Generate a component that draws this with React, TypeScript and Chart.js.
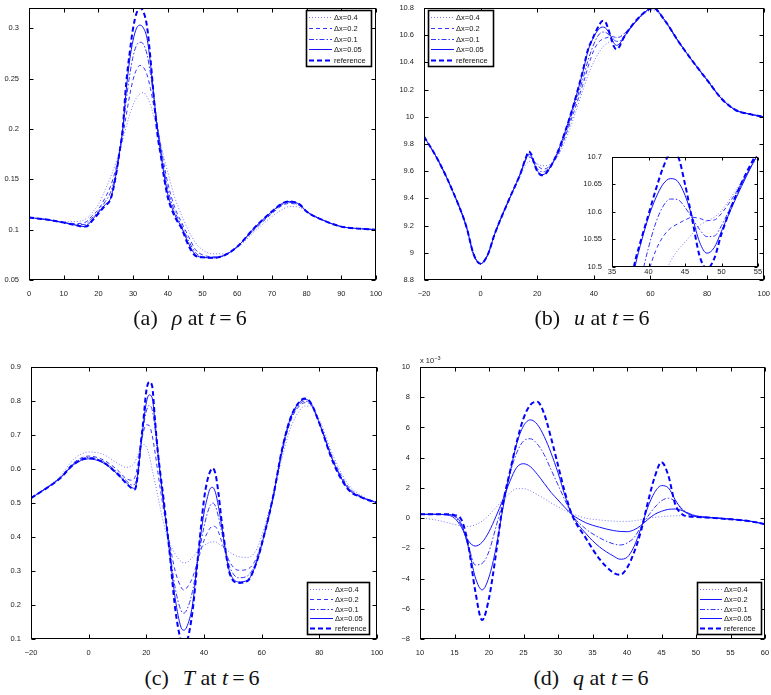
import React, { useEffect, useRef } from "react";
import { Chart, registerables } from "chart.js";
Chart.register(...registerables);

const FONT = "'Liberation Sans', Arial, Helvetica, sans-serif";
const SERIF = "'Liberation Serif', 'DejaVu Serif', serif";

const LABELS = ["Δx=0.4", "Δx=0.2", "Δx=0.1", "Δx=0.05", "reference"];

// ---------- (a) rho at t=6 ----------
const rhoX = [0, 5, 10, 14, 16, 17, 18, 20, 22, 23.5, 25, 26, 27, 28, 29, 30, 31, 32, 33, 34, 35, 36, 37, 38, 39, 40, 42, 44, 46, 48, 50, 53, 56, 60, 65, 70, 73, 75, 78, 80, 85, 90, 95, 100];
const rhoDx04 = [.112, .110, .108, .108, .110, .112, .116, .125, .140, .152, .166, .177, .189, .202, .214, .224, .231, .235, .236, .232, .224, .212, .199, .185, .170, .157, .132, .114, .099, .087, .080, .076, .076, .082, .098, .113, .120, .123, .122, .117, .109, .103, .101, .100];
const rhoDx02 = [.112, .110, .107, .106, .107, .109, .113, .120, .132, .143, .160, .175, .193, .213, .233, .249, .259, .263, .261, .254, .240, .222, .202, .182, .163, .146, .122, .107, .093, .080, .075, .073, .074, .083, .100, .116, .124, .126, .124, .118, .109, .103, .101, .100];
const rhoDx01 = [.112, .110, .107, .105, .105, .107, .111, .118, .128, .137, .155, .175, .198, .228, .253, .272, .283, .286, .284, .274, .255, .230, .204, .180, .158, .140, .118, .104, .089, .077, .073, .072, .074, .083, .101, .117, .125, .127, .124, .118, .109, .103, .101, .100];
const rhoDx005 = [.112, .110, .107, .104, .103, .105, .109, .117, .125, .131, .153, .175, .200, .238, .268, .288, .300, .303, .300, .290, .265, .232, .200, .175, .153, .135, .115, .102, .086, .075, .0725, .072, .074, .083, .102, .118, .126, .128, .125, .118, .109, .103, .101, .100];
const rhoRef = [.112, .110, .107, .104, .103, .104, .108, .116, .124, .130, .153, .175, .200, .245, .275, .300, .315, .320, .316, .302, .270, .230, .195, .173, .150, .132, .113, .101, .084, .074, .0725, .072, .074, .083, .102, .118, .126, .128, .125, .118, .109, .103, .101, .100];

// ---------- (b) u at t=6 ----------
const uX = [-20, -15, -10, -5, -2.5, 0, 2.5, 5, 10, 14, 16, 17, 18, 19, 20, 21, 22, 24, 27, 30, 33, 36, 38, 39, 40, 41, 42, 43, 44, 45, 46, 47, 48, 49, 50, 52, 55, 58, 61, 65, 70, 75, 80, 85, 90, 95, 100];
const uDx04 = [9.855, 9.68, 9.46, 9.19, 8.99, 8.92, 8.985, 9.14, 9.39, 9.56, 9.65, 9.67, 9.675, 9.665, 9.655, 9.645, 9.64, 9.645, 9.70, 9.83, 10.00, 10.19, 10.31, 10.36, 10.405, 10.445, 10.48, 10.51, 10.53, 10.545, 10.56, 10.575, 10.583, 10.59, 10.602, 10.64, 10.70, 10.76, 10.785, 10.70, 10.545, 10.41, 10.28, 10.145, 10.055, 10.02, 10.00];
const uDx02 = [9.855, 9.68, 9.46, 9.19, 8.99, 8.92, 8.985, 9.14, 9.39, 9.58, 9.685, 9.705, 9.695, 9.67, 9.645, 9.625, 9.615, 9.63, 9.71, 9.86, 10.04, 10.23, 10.37, 10.435, 10.49, 10.53, 10.555, 10.57, 10.578, 10.585, 10.59, 10.588, 10.584, 10.585, 10.597, 10.635, 10.705, 10.77, 10.795, 10.71, 10.55, 10.405, 10.27, 10.135, 10.05, 10.02, 10.00];
const uDx01 = [9.855, 9.68, 9.46, 9.19, 8.99, 8.92, 8.985, 9.14, 9.39, 9.58, 9.69, 9.715, 9.70, 9.66, 9.62, 9.60, 9.595, 9.62, 9.72, 9.88, 10.07, 10.27, 10.42, 10.48, 10.535, 10.58, 10.61, 10.623, 10.622, 10.608, 10.588, 10.568, 10.555, 10.556, 10.575, 10.63, 10.705, 10.77, 10.80, 10.71, 10.55, 10.405, 10.27, 10.135, 10.05, 10.02, 10.00];
const uDx005 = [9.855, 9.68, 9.46, 9.19, 8.99, 8.92, 8.985, 9.14, 9.39, 9.58, 9.695, 9.725, 9.71, 9.655, 9.605, 9.58, 9.575, 9.61, 9.73, 9.90, 10.10, 10.32, 10.49, 10.545, 10.59, 10.625, 10.65, 10.66, 10.655, 10.63, 10.59, 10.545, 10.525, 10.535, 10.565, 10.625, 10.705, 10.77, 10.80, 10.71, 10.55, 10.405, 10.27, 10.135, 10.05, 10.02, 10.00];
const uRef = [9.855, 9.68, 9.46, 9.19, 8.99, 8.92, 8.985, 9.14, 9.39, 9.58, 9.70, 9.745, 9.72, 9.65, 9.60, 9.575, 9.57, 9.61, 9.73, 9.90, 10.10, 10.33, 10.50, 10.55, 10.595, 10.64, 10.68, 10.705, 10.70, 10.65, 10.585, 10.52, 10.497, 10.515, 10.56, 10.63, 10.71, 10.77, 10.80, 10.71, 10.55, 10.405, 10.27, 10.135, 10.05, 10.02, 10.00];

// ---------- (c) T at t=6 ----------
const tX = [-20, -10, -5, 0, 5, 10, 13, 15, 16, 17, 18, 19, 20, 21, 22, 23, 24, 26, 28, 30, 32, 33, 34, 36, 38, 40, 41, 42, 43, 44, 45, 46, 47, 48, 49, 52, 55, 58, 61, 64, 67, 70, 73, 75, 77, 80, 85, 90, 95, 100];
const tDx04 = [.515, .578, .63, .65, .643, .617, .605, .61, .62, .64, .662, .672, .665, .64, .60, .56, .52, .44, .385, .35, .328, .324, .325, .34, .36, .375, .38, .384, .386, .386, .38, .375, .37, .362, .355, .342, .34, .36, .43, .525, .63, .72, .77, .785, .785, .745, .635, .555, .52, .503];
const tDx02 = [.514, .574, .62, .638, .627, .597, .572, .567, .575, .61, .665, .71, .73, .728, .70, .65, .59, .48, .385, .30, .253, .244, .25, .28, .335, .39, .41, .425, .432, .43, .415, .39, .365, .345, .325, .302, .305, .335, .415, .515, .645, .74, .785, .795, .79, .735, .625, .548, .517, .502];
const tDx01 = [.514, .573, .617, .634, .622, .59, .566, .553, .555, .59, .66, .725, .77, .787, .775, .72, .64, .50, .37, .25, .185, .176, .185, .24, .34, .43, .465, .49, .50, .49, .46, .42, .38, .34, .31, .28, .285, .325, .41, .515, .65, .745, .79, .80, .79, .735, .62, .545, .516, .501];
const tDx005 = [.514, .572, .614, .630, .618, .585, .56, .545, .543, .58, .66, .735, .795, .818, .81, .74, .65, .50, .36, .22, .135, .126, .135, .20, .35, .47, .51, .54, .546, .53, .49, .44, .385, .33, .295, .268, .272, .32, .41, .52, .655, .75, .795, .805, .795, .735, .618, .542, .515, .501];
const tRef = [.514, .572, .615, .632, .62, .585, .558, .543, .540, .58, .67, .745, .83, .856, .845, .745, .65, .51, .36, .19, .095, .08, .09, .18, .35, .51, .56, .59, .602, .585, .53, .455, .39, .33, .29, .265, .27, .32, .41, .52, .655, .75, .797, .807, .795, .735, .615, .54, .515, .501];

// ---------- (d) q at t=6 (values in units of 1e-3) ----------
const qX = [10, 12, 14, 15, 16, 17, 18, 19, 20, 21, 22, 23, 24, 25, 26, 27, 28, 29, 30, 31, 32, 34, 36, 38, 39, 40, 41, 42, 43, 44, 45, 46, 47, 48, 49, 50, 52, 55, 58, 60];
const qDx04 = [0, -.1, -.3, -.42, -.52, -.55, -.45, -.2, .2, .7, 1.2, 1.65, 1.95, 1.95, 1.8, 1.55, 1.3, 1.0, .75, .5, .3, 0, -.12, -.2, -.22, -.22, -.18, -.1, 0, .05, .1, .13, .15, .17, .18, .15, .07, -.05, -.2, -.38];
const qDx02 = [.25, .25, .2, 0, -.6, -1.5, -1.85, -1.6, -.9, .1, 1.2, 2.4, 3.35, 3.6, 3.4, 2.9, 2.3, 1.7, 1.2, .7, .25, -.3, -.6, -.82, -.88, -.9, -.78, -.5, -.1, .25, .45, .58, .6, .5, .3, .15, .05, -.07, -.22, -.4];
const qDx01 = [.25, .25, .22, .1, -.5, -1.8, -3.1, -3.0, -2.2, -.6, 1.1, 2.9, 4.3, 5.1, 5.25, 4.9, 4.2, 3.2, 2.2, 1.2, .25, -.7, -1.3, -1.7, -1.78, -1.65, -1.3, -.6, .1, .7, 1.15, 1.32, 1.1, .6, .3, .1, .03, -.07, -.22, -.4];
const qDx005 = [.25, .25, .24, .15, -.4, -1.9, -3.9, -4.75, -3.9, -2.0, .6, 2.9, 4.9, 6.1, 6.5, 6.2, 5.4, 4.3, 3.0, 1.5, .25, -1.0, -1.9, -2.5, -2.72, -2.6, -1.9, -.7, .7, 1.7, 2.15, 2.0, 1.2, .55, .25, .1, .03, -.07, -.22, -.4];
const qRef = [.25, .25, .25, .2, -.1, -1.8, -4.8, -6.75, -5.3, -2.4, .9, 3.0, 5.0, 6.6, 7.5, 7.7, 6.9, 5.3, 3.5, 1.7, .25, -1.3, -2.7, -3.6, -3.75, -3.3, -2.3, -.9, 1.0, 2.7, 3.7, 2.8, .9, .25, .1, .08, .02, -.08, -.22, -.4];

// tick settings
const rhoXTicks = { min: 0, max: 100, step: 10 };
const rhoYTicks = { min: 0.05, max: 0.32, step: 0.05 };
const uXTicks = { min: -20, max: 100, step: 20 };
const uYTicks = { min: 8.8, max: 10.8, step: 0.2 };
const insetXTicks = { min: 35, max: 55, step: 5 };
const insetYTicks = { min: 10.5, max: 10.7, step: 0.05 };
const tXTicks = { min: -20, max: 100, step: 20 };
const tYTicks = { min: 0.1, max: 0.9, step: 0.1 };
const qXTicks = { min: 10, max: 60, step: 5 };
const qYTicks = { min: -8, max: 10, step: 2 };

type StyleKey = "dotted" | "dashed" | "dashdot" | "solid" | "ref";
const STYLE: Record<StyleKey, { color: string; width: number; dash: number[] }> = {
  dotted: { color: "#7878ff", width: 1, dash: [1, 2] },
  dashed: { color: "#3434ff", width: 1, dash: [4, 3] },
  dashdot: { color: "#3434ff", width: 1, dash: [5, 2, 1.5, 2] },
  solid: { color: "#1414ff", width: 1, dash: [] },
  ref: { color: "#0000ff", width: 2, dash: [5, 3] },
};

interface Range { min: number; max: number; step: number }
interface PanelCfg {
  box: { left: number; top: number; width: number; height: number };
  area: { l: number; t: number; r: number; b: number };
  xH: number;
  x: number[];
  series: { label: string; y: number[]; style: StyleKey }[];
  xr: Range;
  yr: Range;
  legend?: { x: number; y: number; w: number; h: number; textDx: number };
  inset?: boolean;
  tick: number;
}

const fmt = (v: number) => String(Math.round(v * 10000) / 10000).replace("-", "\u2212");

const framePlugin = {
  id: "frame",
  beforeDraw(chart: any, _a: any, opts: any) {
    if (!opts.fill) return;
    const { ctx, chartArea: a } = chart;
    ctx.save();
    ctx.fillStyle = "#fff";
    ctx.fillRect(a.left, a.top, a.right - a.left, a.bottom - a.top);
    ctx.restore();
  },
  afterDraw(chart: any, _a: any, opts: any) {
    const { ctx, chartArea: a, scales } = chart;
    const L = Math.round(a.left) + 0.5, R = Math.round(a.right) - 0.5;
    const T = Math.round(a.top) + 0.5, B = Math.round(a.bottom) - 0.5;
    const tl = opts.tick || 4;
    ctx.save();
    ctx.strokeStyle = "#000";
    ctx.lineWidth = 1;
    ctx.setLineDash([]);
    ctx.beginPath();
    for (const t of scales.x.ticks) {
      const px = Math.round(scales.x.getPixelForValue(t.value)) + 0.5;
      ctx.moveTo(px, B); ctx.lineTo(px, B - tl);
      ctx.moveTo(px, T); ctx.lineTo(px, T + tl);
    }
    for (const t of scales.y.ticks) {
      const py = Math.round(scales.y.getPixelForValue(t.value)) + 0.5;
      ctx.moveTo(L, py); ctx.lineTo(L + tl, py);
      ctx.moveTo(R, py); ctx.lineTo(R - tl, py);
    }
    ctx.stroke();
    ctx.strokeRect(L, T, R - L, B - T);
    if (opts.drawXLabels) {
      ctx.font = `7.5px ${FONT}`;
      ctx.fillStyle = "#222";
      ctx.textAlign = "center";
      ctx.textBaseline = "top";
      for (const t of scales.x.ticks) {
        const px = scales.x.getPixelForValue(t.value);
        ctx.fillText(fmt(t.value), px, B + 2);
      }
    }
    const lg = opts.legend;
    if (lg) {
      const ds = chart.data.datasets;
      const order = opts.legendOrder as number[];
      ctx.fillStyle = "#fff";
      ctx.fillRect(lg.x, lg.y, lg.w, lg.h);
      ctx.lineWidth = 1.6;
      ctx.strokeStyle = "#000";
      ctx.strokeRect(lg.x + 0.5, lg.y + 0.5, lg.w - 1, lg.h - 1);
      const sp = (lg.h - 4) / 5;
      ctx.font = `7.5px ${FONT}`;
      ctx.textBaseline = "middle";
      ctx.textAlign = "left";
      order.forEach((di, i) => {
        const d = ds[di];
        const cy = Math.round(lg.y + 2 + sp * (i + 0.5)) + 0.5;
        ctx.strokeStyle = d.borderColor;
        ctx.lineWidth = d.borderWidth;
        ctx.setLineDash(d.borderDash || []);
        ctx.beginPath();
        ctx.moveTo(lg.x + 3, cy);
        ctx.lineTo(lg.x + lg.textDx - 2, cy);
        ctx.stroke();
        ctx.setLineDash([]);
        ctx.fillStyle = "#111";
        ctx.fillText(d.label, lg.x + lg.textDx, cy);
      });
    }
    ctx.restore();
  },
};

function makeChart(canvas: HTMLCanvasElement, cfg: PanelCfg) {
  const { box, area } = cfg;
  const yW = area.l - box.left;
  const padTop = area.t - box.top;
  const padRight = box.left + box.width - area.r;
  const padBottom = box.top + box.height - area.b - cfg.xH;
  const n = cfg.series.length;
  const legend = cfg.legend
    ? { ...cfg.legend, x: cfg.legend.x - box.left, y: cfg.legend.y - box.top }
    : null;
  const tickFont = { family: FONT, size: 7.5 };
  return new Chart(canvas, {
    type: "line",
    data: {
      datasets: cfg.series.map((s, i) => ({
        label: s.label,
        data: cfg.x.map((xv, k) => ({ x: xv, y: s.y[k] })),
        borderColor: STYLE[s.style].color,
        borderWidth: STYLE[s.style].width,
        borderDash: STYLE[s.style].dash,
        pointRadius: 0,
        fill: false,
        cubicInterpolationMode: "monotone",
        order: n - i,
        ...(cfg.inset ? { clip: 0 } : {}),
      })),
    },
    options: {
      responsive: false,
      maintainAspectRatio: false,
      animation: false,
      events: [],
      layout: { padding: { left: 0, top: padTop, right: padRight, bottom: padBottom } },
      plugins: {
        legend: { display: false },
        tooltip: { enabled: false },
        frame: {
          fill: !!cfg.inset, tick: cfg.tick, legend,
          legendOrder: cfg.series.map((_, i) => i),
          drawXLabels: !!cfg.inset,
        },
      } as any,
      scales: {
        x: {
          type: "linear",
          min: cfg.xr.min,
          max: cfg.xr.max,
          grid: { display: false },
          border: { display: false },
          ticks: {
            display: !cfg.inset,
            stepSize: cfg.xr.step,
            autoSkip: false,
            maxRotation: 0,
            includeBounds: false,
            padding: 1,
            font: tickFont,
            color: "#222",
            callback: (v: any) => fmt(Number(v)),
          },
          afterFit: (s: any) => { s.height = cfg.xH; },
        },
        y: {
          type: "linear",
          min: cfg.yr.min,
          max: cfg.yr.max,
          grid: { display: false },
          border: { display: false },
          ticks: {
            stepSize: cfg.yr.step,
            autoSkip: false,
            includeBounds: false,
            padding: 2,
            font: tickFont,
            color: "#222",
            callback: (v: any) => fmt(Number(v)),
          },
          afterFit: (s: any) => { s.width = yW; },
        },
      },
    } as any,
    plugins: [framePlugin as any],
  });
}

const STD: StyleKey[] = ["dotted", "dashed", "dashdot", "solid", "ref"];
const mk = (ys: number[][], styles: StyleKey[] = STD) =>
  ys.map((y, i) => ({ label: LABELS[i], y, style: styles[i] }));

const PANELS: PanelCfg[] = [
  {
    box: { left: 0, top: 0, width: 385, height: 300 },
    area: { l: 29, t: 8, r: 376, b: 280 },
    xH: 16, tick: 4,
    x: rhoX, series: mk([rhoDx04, rhoDx02, rhoDx01, rhoDx005, rhoRef]),
    xr: rhoXTicks, yr: rhoYTicks,
    legend: { x: 306, y: 10, w: 66, h: 57, textDx: 28 },
  },
  {
    box: { left: 385, top: 0, width: 386, height: 300 },
    area: { l: 424, t: 8, r: 770, b: 280 },
    xH: 16, tick: 4,
    x: uX, series: mk([uDx04, uDx02, uDx01, uDx005, uRef]),
    xr: uXTicks, yr: uYTicks,
    legend: { x: 428, y: 10, w: 66, h: 57, textDx: 28 },
  },
  {
    box: { left: 570, top: 150, width: 195, height: 135 },
    area: { l: 612, t: 156, r: 758, b: 267 },
    xH: 14, tick: 3, inset: true,
    x: uX, series: mk([uDx04, uDx02, uDx01, uDx005, uRef]),
    xr: insetXTicks, yr: insetYTicks,
  },
  {
    box: { left: 0, top: 330, width: 385, height: 330 },
    area: { l: 31, t: 367, r: 377, b: 639 },
    xH: 16, tick: 4,
    x: tX, series: mk([tDx04, tDx02, tDx01, tDx005, tRef]),
    xr: tXTicks, yr: tYTicks,
    legend: { x: 307, y: 582, w: 63, h: 53, textDx: 28 },
  },
  {
    box: { left: 385, top: 330, width: 386, height: 330 },
    area: { l: 420, t: 367, r: 765, b: 639 },
    xH: 16, tick: 4,
    x: qX, series: mk([qDx04, qDx02, qDx01, qDx005, qRef], ["dotted", "solid", "dashdot", "solid", "ref"]),
    xr: qXTicks, yr: qYTicks,
    legend: { x: 697, y: 582, w: 65, h: 53, textDx: 27 },
  },
];

function Caption({ cx, cy, tag, sym }: { cx: number; cy: number; tag: string; sym: string }) {
  return (
    <div
      style={{
        position: "absolute", left: cx - 120, width: 240, top: cy - 13, height: 26,
        textAlign: "center", fontFamily: SERIF, fontSize: 22, lineHeight: "26px",
        color: "#111", whiteSpace: "nowrap",
      }}
    >
      ({tag})<span style={{ marginLeft: 14 }}><i>{sym}</i></span> at <i>t</i>
      <span style={{ margin: "0 4px" }}>=</span>6
    </div>
  );
}

export default function App() {
  const refs = useRef<(HTMLCanvasElement | null)[]>([]);
  useEffect(() => {
    const charts = PANELS.map((p, i) => makeChart(refs.current[i]!, p));
    return () => charts.forEach((c) => c.destroy());
  }, []);
  return (
    <div style={{ position: "absolute", left: 0, top: 0, width: 771, height: 695, background: "#fff", overflow: "hidden" }}>
      {PANELS.map((p, i) => (
        <canvas
          key={i}
          ref={(el) => { refs.current[i] = el; }}
          width={p.box.width}
          height={p.box.height}
          style={{ position: "absolute", left: p.box.left, top: p.box.top, width: p.box.width, height: p.box.height }}
        />
      ))}
      <div style={{ position: "absolute", left: 420, top: 356, fontFamily: FONT, fontSize: 7.5, lineHeight: "9px", color: "#222", whiteSpace: "nowrap" }}>
        x 10<span style={{ fontSize: 5.5, position: "relative", top: -3 }}>{"\u22123"}</span>
      </div>
      <Caption cx={190} cy={318} tag="a" sym="ρ" />
      <Caption cx={592} cy={318} tag="b" sym="u" />
      <Caption cx={202} cy={678} tag="c" sym="T" />
      <Caption cx={591} cy={678} tag="d" sym="q" />
    </div>
  );
}
